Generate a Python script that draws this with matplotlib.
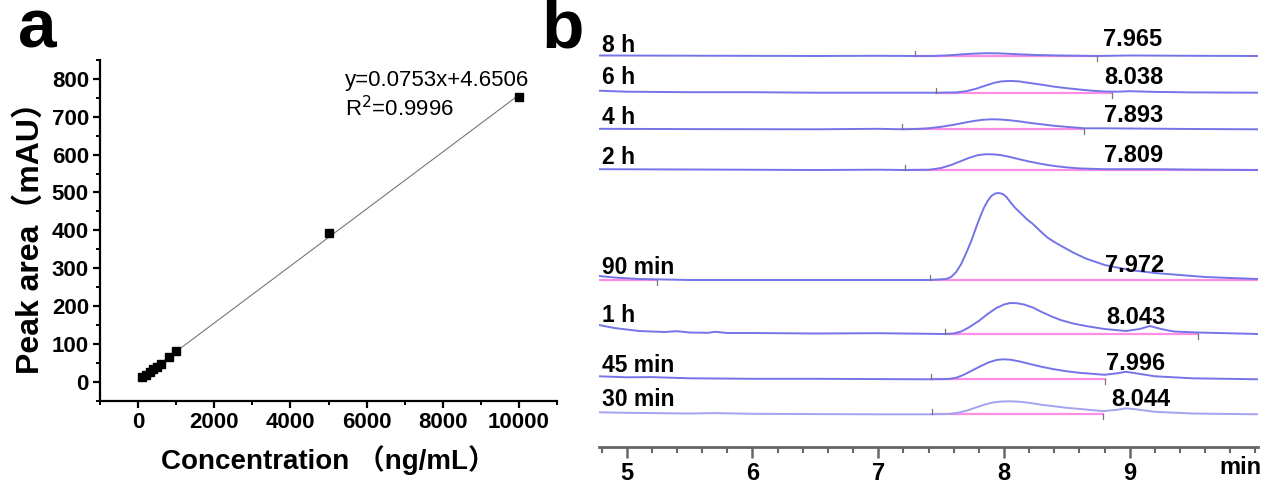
import matplotlib
matplotlib.use("Agg")
import matplotlib.pyplot as plt
from matplotlib.ticker import MultipleLocator
import numpy as np

plt.rcParams['font.family'] = ['Liberation Sans', 'Noto Sans CJK SC', 'DejaVu Sans']

# ---------------- panel a: calibration curve ----------------
conc = [100, 200, 300, 400, 500, 600, 800, 1000, 5000, 10000]
peak_area = [12, 18, 25, 33, 40, 48, 66, 82, 393, 752]
slope, intercept = 0.0753, 4.6506

# ---------------- panel b: chromatograms ----------------
sample_labels = ["8 h", "6 h", "4 h", "2 h", "90 min", "1 h", "45 min", "30 min"]
rt_labels = ["7.965", "8.038", "7.893", "7.809", "7.972", "8.043", "7.996", "8.044"]

t_8h = [4.78, 5.5, 6.5, 7.0, 7.29, 7.43, 7.55, 7.65, 7.75, 7.86, 7.97, 8.1, 8.25,
        8.44, 8.74, 9.0, 9.5, 10.02]
s_8h = [0.5, 0.3, 0.0, 0.2, 0.0, 0.0, 0.6, 1.5, 2.3, 2.8, 2.6, 1.8, 1.0, 0.5, 0.0,
        0.5, 0.2, 0.0]

t_6h = [4.78, 5.0, 5.5, 6.0, 6.5, 7.0, 7.46, 7.62, 7.70, 7.78, 7.85, 7.92, 7.98, 8.05,
        8.12, 8.2, 8.3, 8.4, 8.5, 8.6, 8.7, 8.8, 8.9, 9.0, 9.2, 9.5, 10.02]
s_6h = [2, 1, 0.5, 0.5, 0, 0, 0, 0.3, 1.5, 4, 7, 9.8, 11.3, 11.8, 11.3, 9.8, 8, 6,
        4.5, 3.2, 2, 1.2, 1.0, 1.5, 0.8, 0.3, 0]

t_4h = [4.78, 5.5, 6.5, 7.0, 7.19, 7.30, 7.40, 7.50, 7.60, 7.68, 7.76, 7.83, 7.90,
        7.97, 8.05, 8.13, 8.2, 8.3, 8.4, 8.52, 8.64, 8.8, 9.0, 9.5, 10.02]
s_4h = [0.5, 0.2, 0, 0.5, 0, 0.3, 1.0, 2.5, 4.5, 6.5, 8.3, 9.5, 10, 9.8, 9, 7.8, 6.5,
        5, 3.5, 2.2, 1.0, 1.0, 0.8, 0.3, 0]

t_2h = [4.78, 5.5, 6.5, 7.0, 7.21, 7.41, 7.50, 7.58, 7.65, 7.72, 7.79, 7.86, 7.92,
        7.98, 8.05, 8.12, 8.2, 8.3, 8.4, 8.5, 8.6, 8.8, 9.2, 9.6, 10.02]
s_2h = [0.8, 0.5, 0, 0.3, 0, 0.3, 2.0, 5.0, 8.5, 12, 14.8, 15.8, 15.6, 14.8, 13,
        10.8, 8.5, 6, 4, 2.6, 1.6, 0.8, 0.8, 0.3, 0]

t_90m = [4.78, 4.9, 5.1, 5.5, 6.5, 7.0, 7.41, 7.54, 7.58, 7.62, 7.66, 7.70, 7.74, 7.78,
         7.81, 7.84, 7.87, 7.90, 7.93, 7.96, 7.99, 8.02, 8.05, 8.09, 8.14, 8.18, 8.23,
         8.28, 8.34, 8.40, 8.47, 8.55, 8.65, 8.8, 9.0, 9.2, 9.4, 9.6, 9.8, 10.02]
s_90m = [4, 2.5, 1, 0, 0, 0, 0, 1, 3, 8, 16, 27, 39, 53, 63, 72, 79, 84, 86.5, 87, 86,
         83, 78, 72, 66, 61, 56, 50, 43, 38, 33, 27.5, 21.5, 15, 10, 7, 5, 3, 2, 1]

t_1h = [4.78, 4.9, 5.1, 5.3, 5.4, 5.5, 5.65, 5.7, 5.8, 6.0, 6.5, 7.0, 7.53, 7.6, 7.66,
        7.72, 7.8, 7.87, 7.94, 8.0, 8.05, 8.1, 8.16, 8.23, 8.3, 8.38, 8.45, 8.55, 8.65,
        8.8, 8.97, 9.08, 9.16, 9.25, 9.35, 9.54, 9.7, 10.02]
s_1h = [9, 6, 3, 2, 2.8, 1.5, 1.2, 2.2, 1.0, 1.0, 0.5, 0.8, 0, 0.5, 2.5, 6.5, 13, 20,
        26, 29.5, 31, 30.8, 29.5, 26.5, 22, 17.5, 14, 10.5, 8, 5, 3, 5, 8, 5, 2.5,
        1.5, 1.0, 0]

t_45m = [4.78, 5.0, 5.2, 5.5, 6.0, 6.5, 7.0, 7.42, 7.56, 7.62, 7.68, 7.75, 7.82, 7.88,
         7.94, 7.99, 8.05, 8.12, 8.2, 8.3, 8.4, 8.5, 8.6, 8.7, 8.8, 8.9, 8.97, 9.05,
         9.2, 9.5, 10.02]
s_45m = [3, 2, 2.2, 1, 0.5, 0.5, 0.2, 0, 0.3, 1.5, 4.5, 9, 13.5, 17, 19.3, 20, 19.6,
         18, 15.5, 12.5, 10, 8, 6.5, 5.5, 4.5, 6, 7.5, 6, 3, 1, 0]

t_30m = [4.78, 5.0, 5.5, 5.7, 6.0, 6.5, 7.0, 7.43, 7.56, 7.63, 7.70, 7.77, 7.84, 7.91,
         7.98, 8.05, 8.12, 8.2, 8.3, 8.4, 8.5, 8.65, 8.79, 8.9, 8.97, 9.05, 9.2, 9.5,
         10.02]
s_30m = [2, 1.5, 0.8, 1.2, 0.5, 0.2, 0, 0, 0.3, 1.5, 3.5, 6.5, 9.5, 11.8, 12.8, 13,
         12.6, 11.5, 9.5, 8, 6.5, 4.8, 3.2, 4.5, 6, 5, 2.5, 0.8, 0]

times = [t_8h, t_6h, t_4h, t_2h, t_90m, t_1h, t_45m, t_30m]
signals = [s_8h, s_6h, s_4h, s_2h, s_90m, s_1h, s_45m, s_30m]

# integration window start / end (min)
int_start = [7.29, 7.46, 7.19, 7.21, 7.41, 7.53, 7.42, 7.43]
int_end = [8.74, 8.86, 8.64, 10.3, 10.3, 9.54, 8.80, 8.79]

# layout: trace baseline and label heights (pixel rows of the panel)
baseline_y = [56, 92.7, 129.3, 170, 280, 334, 379.3, 414.3]
label_y = [45, 78, 117, 157, 267, 316, 365, 400]
rt_y = [40, 77, 115, 155, 266, 318, 363, 400]
rt_x = [9.02, 9.03, 9.03, 9.03, 9.04, 9.05, 9.05, 9.09]

trace_color = '#7474e8'
pink = '#ff8fe6'

fig = plt.figure(figsize=(12.73, 4.84), dpi=100)

# ---------------- panel a ----------------
ax1 = fig.add_axes([100 / 1273, 1 - 400.7 / 484, 457 / 1273, 340.7 / 484])
xfit = np.array([min(conc), max(conc)])
ax1.plot(xfit, slope * xfit + intercept, color='#777777', lw=0.8, zorder=1)
ax1.plot(conc, peak_area, 's', color='black', ms=6, zorder=2)
ax1.set_xlim(-1000, 11000)
ax1.set_ylim(-50, 850)
ax1.xaxis.set_major_locator(MultipleLocator(2000))
ax1.xaxis.set_minor_locator(MultipleLocator(1000))
ax1.yaxis.set_major_locator(MultipleLocator(100))
ax1.yaxis.set_minor_locator(MultipleLocator(50))
for s in ['top', 'right']:
    ax1.spines[s].set_visible(False)
for s in ['left', 'bottom']:
    ax1.spines[s].set_linewidth(1.6)
ax1.tick_params(which='major', direction='out', length=5, width=1.6, labelsize=16, pad=3)
ax1.tick_params(which='minor', direction='out', length=3, width=1.4)
for lab in ax1.get_xticklabels() + ax1.get_yticklabels():
    lab.set_fontweight('bold')
ax1.set_xlabel("Concentration （ng/mL）", fontsize=20, fontweight='bold', labelpad=9)
ax1.set_ylabel("Peak area（mAU）", fontsize=23, fontweight='bold', labelpad=4)
ax1.text(5430, 795, "y=0.0753x+4.6506", fontsize=16, va='center')
ax1.text(5430, 722, "R$^2$=0.9996", fontsize=16, va='center')

fig.text(18 / 1273, 1 - 30 / 484, "a", fontsize=50, fontweight='bold', va='center')
fig.text(541 / 1273, 1 - 30 / 484, "b", fontsize=50, fontweight='bold', va='center')

# ---------------- panel b ----------------
ax2 = fig.add_axes([599 / 1273, 1 - 446.7 / 484, 659 / 1273, 416.7 / 484])
ax2.set_xlim(4.78, 10.02)
ax2.set_ylim(446.7, 30)

for i in range(len(sample_labels)):
    base = baseline_y[i]
    t = np.array(times[i])
    s = np.array(signals[i])
    col = trace_color if i < 7 else '#a3a3f0'
    # integration baseline + marker ticks
    ax2.plot([int_start[i], int_end[i]], [base, base], color=pink, lw=1.6, zorder=1)
    ax2.plot([int_start[i], int_start[i]], [base, base - 5], color='#777777', lw=0.9, zorder=3)
    if int_end[i] < 10.02:
        ax2.plot([int_end[i], int_end[i]], [base, base + 5], color='#777777', lw=0.9, zorder=3)
    ax2.plot(t, base - s, color=col, lw=1.4, zorder=2)
    ax2.text(4.80, label_y[i], sample_labels[i], fontsize=16.5, fontweight='bold',
             ha='left', va='center')
    ax2.text(rt_x[i], rt_y[i], rt_labels[i], fontsize=17, fontweight='bold',
             ha='center', va='center')

# early integration segment on the 90 min trace
ax2.plot([4.78, 5.24], [baseline_y[4], baseline_y[4]], color=pink, lw=1.6, zorder=1)
ax2.plot([5.24, 5.24], [baseline_y[4], baseline_y[4] + 5], color='#777777', lw=0.9, zorder=3)

for s in ['top', 'right', 'left']:
    ax2.spines[s].set_visible(False)
ax2.spines['bottom'].set_color('#666666')
ax2.spines['bottom'].set_linewidth(2)
ax2.set_yticks([])
ax2.xaxis.set_major_locator(MultipleLocator(1))
ax2.xaxis.set_minor_locator(MultipleLocator(0.2))
ax2.tick_params(axis='x', which='major', direction='out', length=8, width=1.8,
                color='#666666', labelsize=17, pad=3)
ax2.tick_params(axis='x', which='minor', direction='out', length=4, width=1.5,
                color='#666666')
ax2.set_xticks([5, 6, 7, 8, 9])
for lab in ax2.get_xticklabels():
    lab.set_fontweight('bold')
ax2.text(9.88, -0.051, "min", transform=ax2.get_xaxis_transform(), fontsize=17,
         fontweight='bold', ha='center', va='center')

fig.savefig("out.png", dpi=100)
